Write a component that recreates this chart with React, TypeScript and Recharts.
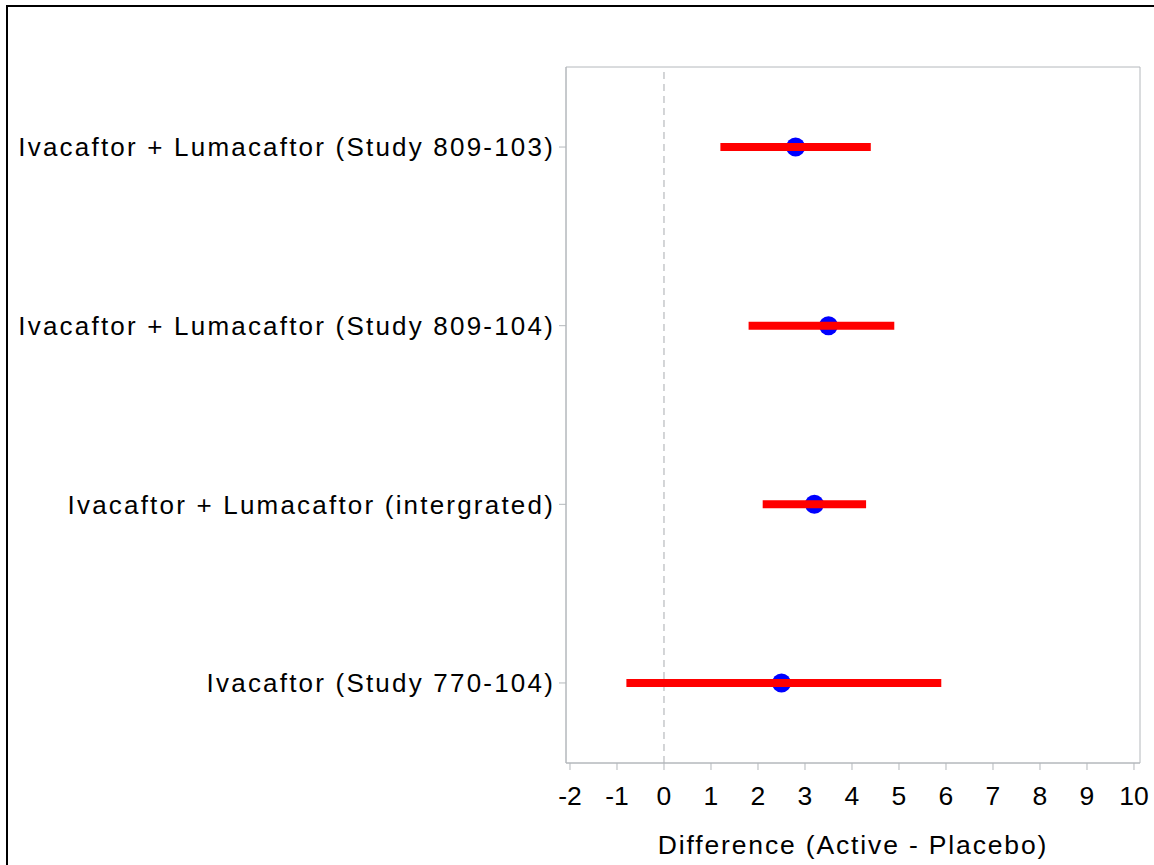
import React from "react"
import {
  ComposedChart,
  Scatter,
  ErrorBar,
  XAxis,
  YAxis,
  ReferenceLine,
  ReferenceArea,
  Label,
} from "recharts"

const studies = [
  "Ivacaftor + Lumacaftor (Study 809-103)",
  "Ivacaftor + Lumacaftor (Study 809-104)",
  "Ivacaftor + Lumacaftor (intergrated)",
  "Ivacaftor (Study 770-104)",
]
const estimates = [2.8, 3.5, 3.2, 2.5]
const lowerCI = [1.2, 1.8, 2.1, -0.8]
const upperCI = [4.4, 4.9, 4.3, 5.9]
const xTicks = [-2, -1, 0, 1, 2, 3, 4, 5, 6, 7, 8, 9, 10]

const rows = studies.map((name, i) => ({
  row: i + 1,
  name,
  est: estimates[i],
  err: [estimates[i] - lowerCI[i], upperCI[i] - estimates[i]],
}))

const xDomain = [-2.085, 10.128]
const yDomain = [0.552, 4.448]

const font = "'Liberation Sans', Arial, sans-serif"
const frame = "#b4b8bc"

function Dot(props: any) {
  return <circle cx={props.cx} cy={props.cy} r={9.5} fill="#0000ff" />
}

function NoDot() {
  return <g />
}

export default function App() {
  return (
    <div style={{ position: "absolute", left: 0, top: 0, width: 1154, height: 865, background: "#fff", overflow: "hidden" }}>
      <div
        style={{
          position: "absolute",
          left: 6,
          top: 5,
          width: 1200,
          height: 900,
          borderLeft: "2px solid #000",
          borderTop: "2px solid #000",
        }}
      />
      <div style={{ position: "absolute", left: 0, top: 0 }}>
        <ComposedChart width={1154} height={865} data={rows} margin={{ top: 67, right: 14, bottom: 0, left: 0 }}>
          <XAxis
            type="number"
            dataKey="est"
            domain={xDomain}
            allowDataOverflow
            ticks={xTicks}
            interval={0}
            height={102}
            stroke={frame}
            tickSize={7}
            tickMargin={16}
            tick={{ fill: "#000", fontSize: 26.5, fontFamily: font }}
          >
            <Label
              value="Difference (Active - Placebo)"
              position="insideBottom"
              offset={11}
              style={{ fill: "#000", fontSize: 26.5, fontFamily: font, letterSpacing: 1.85 }}
            />
          </XAxis>
          <YAxis
            type="number"
            dataKey="row"
            reversed
            domain={yDomain}
            allowDataOverflow
            ticks={[1, 2, 3, 4]}
            interval={0}
            width={566}
            stroke={frame}
            tickSize={7}
            tickMargin={4}
            tickFormatter={(v: number) => studies[v - 1]}
            tick={{ fill: "#000", fontSize: 26, fontFamily: font, letterSpacing: 2.2 }}
          />
          <ReferenceArea
            x1={xDomain[0]}
            x2={xDomain[1]}
            y1={yDomain[0]}
            y2={yDomain[1]}
            fill="none"
            stroke={frame}
            strokeWidth={1}
            ifOverflow="visible"
          />
          <ReferenceLine x={0} stroke="#a8acb0" strokeDasharray="7 5" />
          <Scatter dataKey="est" shape={Dot} isAnimationActive={false} zIndex={300} />
          <Scatter dataKey="est" shape={NoDot} isAnimationActive={false} zIndex={900}>
            <ErrorBar dataKey="err" direction="x" width={0} stroke="#ff0000" strokeWidth={8} zIndex={1000} />
          </Scatter>
        </ComposedChart>
      </div>
    </div>
  )
}
